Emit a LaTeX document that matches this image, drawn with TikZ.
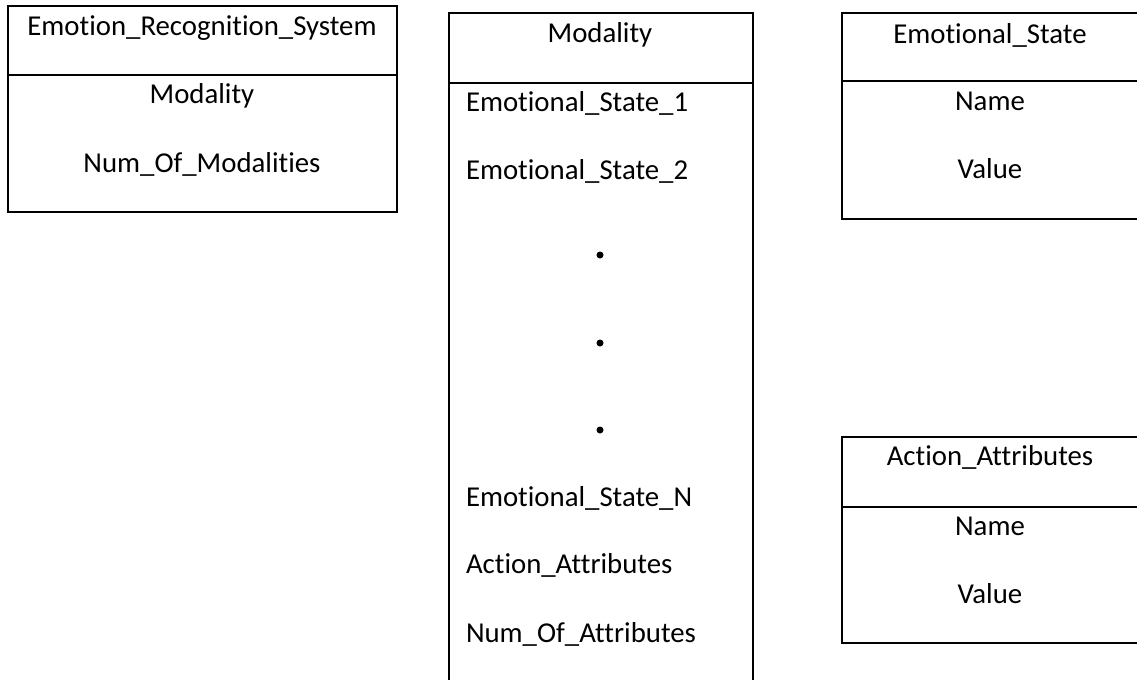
\documentclass[tikz,border=0pt]{standalone}
\usepackage{fontspec}
\setmainfont{Carlito}[Ligatures=NoCommon]
\usetikzlibrary{positioning}

\begin{document}
\begin{tikzpicture}[x=0.5pt,y=-0.5pt,line width=1pt,
	classbox/.style={rectangle,draw,inner sep=0pt},
	attr/.style={anchor=base,inner sep=0pt,font=\fontsize{14.4}{16}\selectfont},
	leftattr/.style={attr,anchor=base west}]
	\useasboundingbox (0,0) rectangle (1137,680);

	% boxes
	\node[classbox,minimum width=194.75pt,minimum height=103pt] (ers) at (202.25,109) {};
	\node[classbox,minimum width=152pt,minimum height=343.5pt] (mod) at (601,356.5) {};
	\node[classbox,minimum width=148.5pt,minimum height=103pt] (emo) at (990.5,116) {};
	\node[classbox,minimum width=148.5pt,minimum height=103pt] (act) at (990.5,540) {};

	\draw (ers.west |- 0,75) -- (ers.east |- 0,75);
	\draw (mod.west |- 0,83) -- (mod.east |- 0,83);
	\draw (emo.west |- 0,81) -- (emo.east |- 0,81);
	\draw (act.west |- 0,507) -- (act.east |- 0,507);

	% Emotion_Recognition_System
	\node[attr] (ers title) at (202,35) {Emotion\_Recognition\_System};
	\node[attr] (ers a1) at (202,104) {Modality};
	\node[attr] (ers a2) at (202,172) {Num\_Of\_Modalities};

	% Modality
	\node[attr] (mod title) at (600,42) {Modality};
	\node[leftattr] (mod a1) at (465,112) {Emotional\_State\_1};
	\node[leftattr] (mod a2) at (465,179) {Emotional\_State\_2};
	\foreach \y [count=\i] in {255,343,430}
		\node[circle,fill,inner sep=0pt,minimum size=3.5pt] (dot\i) at (600,\y) {};
	\node[leftattr] (mod a3) at (465,506) {Emotional\_State\_N};
	\node[leftattr] (mod a4) at (465,573) {Action\_Attributes};
	\node[leftattr] (mod a5) at (465,642) {Num\_Of\_Attributes};

	% Emotional_State
	\node[attr] (emo title) at (990,43) {Emotional\_State};
	\node[attr] (emo a1) at (990,111) {Name};
	\node[attr] (emo a2) at (990,178) {Value};

	% Action_Attributes
	\node[attr] (act title) at (990,465) {Action\_Attributes};
	\node[attr] (act a1) at (990,535) {Name};
	\node[attr] (act a2) at (990,603) {Value};
\end{tikzpicture}
\end{document}
